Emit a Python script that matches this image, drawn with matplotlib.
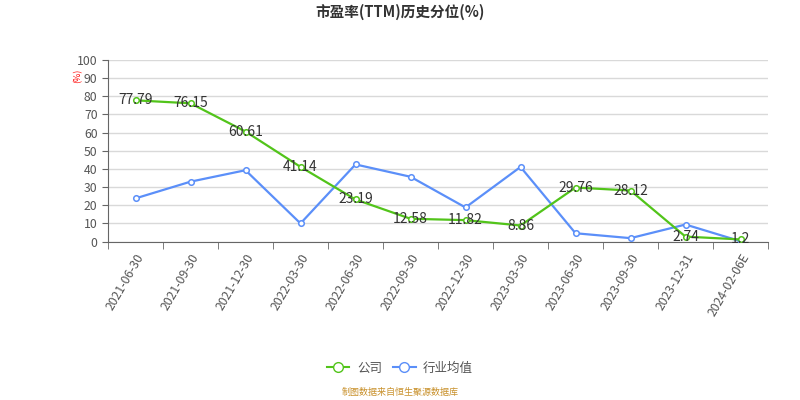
import matplotlib.pyplot as plt
from matplotlib.lines import Line2D

plt.rcParams['font.family'] = ['Noto Sans CJK SC', 'DejaVu Sans']

# data
dates = ['2021-06-30', '2021-09-30', '2021-12-30', '2022-03-30', '2022-06-30', '2022-09-30',
         '2022-12-30', '2023-03-30', '2023-06-30', '2023-09-30', '2023-12-31', '2024-02-06E']
company = [77.79, 76.15, 60.61, 41.14, 23.19, 12.58, 11.82, 8.86, 29.76, 28.12, 2.74, 1.2]
industry = [23.8, 33.0, 39.3, 10.0, 42.5, 35.7, 18.8, 41.1, 4.6, 1.9, 9.4, 0.2]

green = '#52c41a'
blue = '#5b8ff9'

fig = plt.figure(figsize=(8, 4), dpi=100)
ax = fig.add_axes([0.135, 0.396, 0.825, 0.454])

x = list(range(len(dates)))
ax.plot(x, industry, color=blue, lw=1.6, marker='o', ms=4, mfc='white', mec=blue, mew=1.1, zorder=3)
ax.plot(x, company, color=green, lw=1.6, marker='o', ms=4, mfc='white', mec=green, mew=1.1, zorder=4)
for xi, v in zip(x, company):
    ax.text(xi, v, f'{v:g}', ha='center', va='center', fontsize=10, color='#333333', zorder=5)

ax.set_xlim(-0.5, len(dates) - 0.5)
ax.set_ylim(0, 100)
ax.set_yticks(range(0, 101, 10))
ax.set_xticks(x)
ax.set_xticklabels(dates, rotation=60, ha='right', rotation_mode='anchor', fontsize=8.8, color='#555555')
ax.set_xticks([i - 0.5 for i in range(len(dates) + 1)], minor=True)
ax.tick_params(axis='x', which='major', length=0, pad=7)
ax.tick_params(axis='x', which='minor', length=5, color='#666666')
ax.tick_params(axis='y', labelsize=8.8, labelcolor='#555555', length=4, color='#666666')
ax.grid(axis='y', color='#d9d9d9', lw=1)
ax.set_axisbelow(True)
for s in ['top', 'right']:
    ax.spines[s].set_visible(False)
ax.spines['left'].set_color('#666666')
ax.spines['bottom'].set_color('#666666')

fig.text(0.5, 0.97, '市盈率(TTM)历史分位(%)', ha='center', va='center', fontsize=10.5, fontweight='bold', color='#333333')
fig.text(0.097, 0.81, '(%)', rotation=90, ha='center', va='center', fontsize=6.5, color='red')

handles = [Line2D([], [], color=green, marker='o', mfc='white', mec=green, ms=7, lw=1.5),
           Line2D([], [], color=blue, marker='o', mfc='white', mec=blue, ms=7, lw=1.5)]
fig.legend(handles, ['公司', '行业均值'], loc='center', bbox_to_anchor=(0.5, 0.08), ncol=2,
           frameon=False, fontsize=9, handlelength=1.8, handletextpad=0.6, columnspacing=0.9,
           labelcolor='#555555')
fig.text(0.5, 0.018, '制图数据来自恒生聚源数据库', ha='center', va='center', fontsize=6.5, color='#c8902a')

fig.savefig('out.png', dpi=100)
